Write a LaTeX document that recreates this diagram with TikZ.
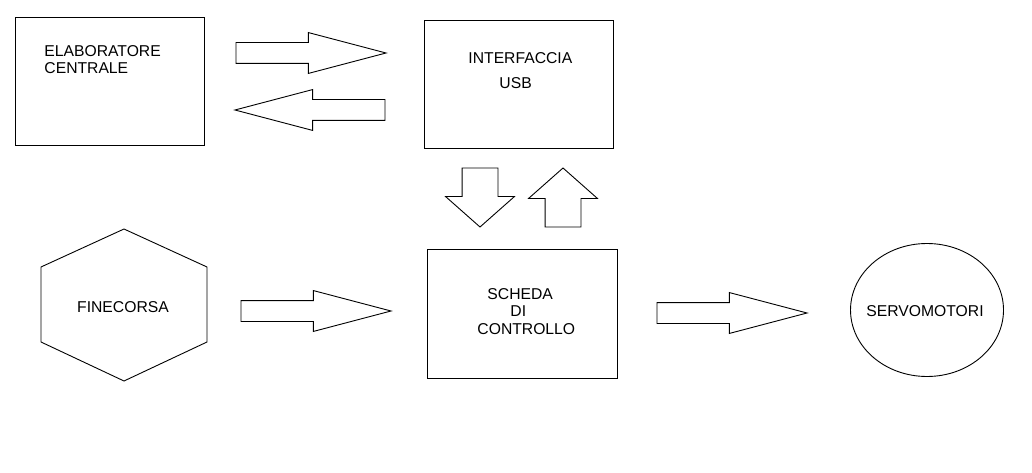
\documentclass[tikz,border=0pt]{standalone}
\usepackage{fontspec}
\setmainfont{Liberation Sans}
\usetikzlibrary{positioning,shapes.geometric,shapes.arrows}
\tikzset{blocco/.style={draw,rectangle,outer sep=0pt,minimum width=189pt,minimum height=128pt},
	freccia/.style={draw,single arrow,inner xsep=0pt,inner ysep=10pt,minimum width=0pt,outer sep=0pt,
		single arrow head extend=10pt,single arrow tip angle=29.5,minimum height=150pt,anchor=tip},
	freccina/.style={freccia,inner ysep=17.5pt,single arrow head extend=16.5pt,
		single arrow tip angle=97,minimum height=59pt},
	testo/.style={inner sep=0pt,align=left,anchor=north west},}

\begin{document}
\begin{tikzpicture}[x=1pt,y=-1pt,line width=0.9pt,every node/.style={font=\fontsize{15.7}{17.5}\selectfont}]
	\useasboundingbox (0,0) rectangle (1032,473);
	% blocchi
	\node[blocco] (elab) at (109.5,81) {};
	\node[blocco] (usb) at (518.5,84.5) {};
	\node[blocco,minimum width=190pt,minimum height=129pt] (scheda) at (522,313.5) {};
	\node[draw,ellipse,minimum width=153pt,minimum height=133pt,inner sep=0pt,
		label={[xshift=-2pt,yshift=-1.5pt]center:SERVOMOTORI}] (servo) at (927,310) {};
	\node (fine) at (123,307) {FINECORSA};
	\draw (124,229) -- (207,267) -- (207,342) -- (124,381) -- (41,342) -- (41,267) -- cycle;

	\node[testo] (t1) [below right = 28pt and 29pt of elab.north west] {ELABORATORE\\CENTRALE};
	\node[testo] (t2) [below right = 32pt and 44pt of usb.north west] {INTERFACCIA\\[7.5pt]\hspace*{31pt}USB};
	\node[testo] (t3) [below right = 39pt and 50pt of scheda.north west] {\hspace*{10pt}SCHEDA\\\hspace*{33pt}DI\\CONTROLLO};

	% frecce
	\node[freccia] (f1) at (386,53) {};
	\node[freccia,rotate=180] (f2) at (235,110) {};
	\node[freccina,rotate=-90] (f3) at (480,227) {};
	\node[freccina,rotate=90] (f4) at (563,168) {};
	\node[freccia] (f5) at (391,311) {};
	\node[freccia] (f6) at (807,313) {};
\end{tikzpicture}
\end{document}
